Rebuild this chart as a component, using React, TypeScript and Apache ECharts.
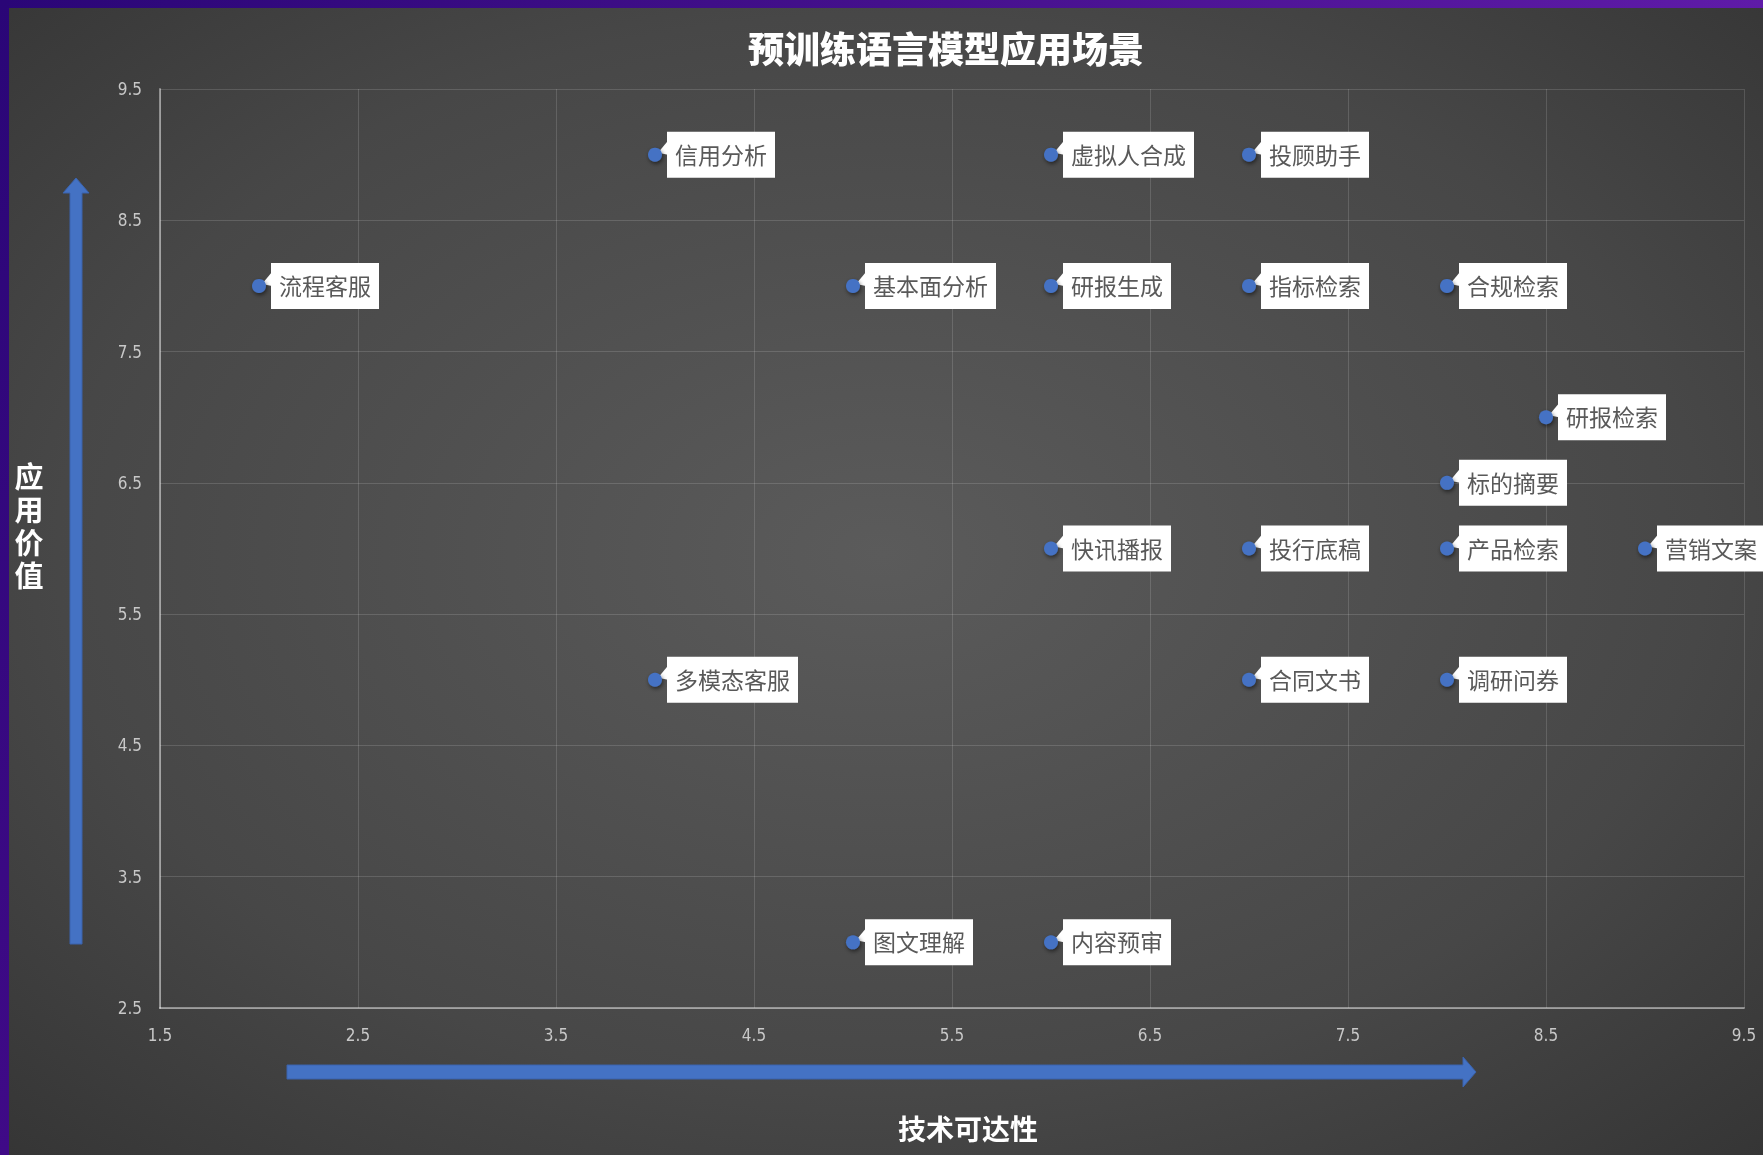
import React, { useEffect, useRef } from "react";
import * as echarts from "echarts";

const names = [
  "流程客服", "信用分析", "虚拟人合成", "投顾助手", "基本面分析", "研报生成", "指标检索", "合规检索",
  "研报检索", "标的摘要", "快讯播报", "投行底稿", "产品检索", "营销文案", "多模态客服", "合同文书",
  "调研问券", "图文理解", "内容预审",
];
const xValues = [2, 4, 6, 7, 5, 6, 7, 8, 8.5, 8, 6, 7, 8, 9, 4, 7, 8, 5, 6];
const yValues = [8, 9, 9, 9, 8, 8, 8, 8, 7, 6.5, 6, 6, 6, 6, 5, 5, 5, 3, 3];

const titleText = "预训练语言模型应用场景";
const xName = "技术可达性";
const yName = "应用价值";

const xMin = 1.5, xMax = 9.5, yMin = 2.5, yMax = 9.5, step = 1;

const CJK = "'Noto Sans CJK SC', 'Noto Sans', sans-serif";
const NUM = "'Liberation Sans Narrow', 'DejaVu Sans Condensed', 'Liberation Sans', sans-serif";

export default function App() {
  const ref = useRef<HTMLDivElement>(null);
  useEffect(() => {
    if (!ref.current) return;
    const chart = echarts.init(ref.current, undefined, { renderer: "svg" });
    const data = names.map((n, i) => [xValues[i], yValues[i]]);
    const blue = "#4472c4";
    const yNameChars = yName.split("").map((ch, i) => ({
      type: "text", x: 29, y: 475 + i * 33,
      style: { text: ch, fill: "#ffffff", font: `bold 29px ${CJK}`, textAlign: "center", textVerticalAlign: "middle" },
    }));
    const option: any = {
      animation: false,
      backgroundColor: {
        type: "radial", x: 0.5, y: 0.48, r: 0.85,
        colorStops: [
          { offset: 0, color: "#5b5b5b" },
          { offset: 0.55, color: "#474747" },
          { offset: 1, color: "#2c2c2c" },
        ],
      },
      grid: { left: 160, top: 89, right: 19, bottom: 147, containLabel: false },
      xAxis: {
        type: "value", min: xMin, max: xMax, interval: step,
        axisLine: { show: true, lineStyle: { color: "rgba(255,255,255,0.42)", width: 2 } },
        axisTick: { show: false },
        splitLine: { show: true, lineStyle: { color: "rgba(255,255,255,0.14)", width: 1 } },
        axisLabel: { color: "#c8c8c8", fontSize: 17, fontFamily: NUM, margin: 18,
          formatter: (v: number) => v.toFixed(1) },
      },
      yAxis: {
        type: "value", min: yMin, max: yMax, interval: step,
        axisLine: { show: true, lineStyle: { color: "rgba(255,255,255,0.42)", width: 2 } },
        axisTick: { show: false },
        splitLine: { show: true, lineStyle: { color: "rgba(255,255,255,0.14)", width: 1 } },
        axisLabel: { color: "#c8c8c8", fontSize: 17, fontFamily: NUM, margin: 18,
          formatter: (v: number) => v.toFixed(1) },
      },
      graphic: [
        {
          type: "rect", shape: { x: 0, y: 0, width: 1763, height: 8 },
          style: { fill: { type: "linear", x: 0, y: 0, x2: 1, y2: 0,
            colorStops: [{ offset: 0, color: "#2a0677" }, { offset: 0.5, color: "#44108c" }, { offset: 1, color: "#5f1ba8" }] } },
          z: 100,
        },
        {
          type: "rect", shape: { x: 0, y: 0, width: 9, height: 1155 },
          style: { fill: { type: "linear", x: 0, y: 0, x2: 0, y2: 1,
            colorStops: [{ offset: 0, color: "#2a0677" }, { offset: 1, color: "#3f0a87" }] } },
          z: 100,
        },
        {
          type: "text", x: 946, y: 47,
          style: { text: titleText, fill: "#ffffff", font: `900 36px ${CJK}`, textAlign: "center", textVerticalAlign: "middle" },
        },
        ...yNameChars,
        {
          type: "text", x: 968, y: 1128,
          style: { text: xName, fill: "#ffffff", font: `bold 28px ${CJK}`, textAlign: "center", textVerticalAlign: "middle" },
        },
        {
          type: "polygon",
          shape: { points: [[70, 944], [70, 193], [63, 193], [76, 178], [89, 193], [82, 193], [82, 944]] },
          style: { fill: blue, stroke: "#3a63ad", lineWidth: 1 },
        },
        {
          type: "polygon",
          shape: { points: [[287, 1065], [1463, 1065], [1463, 1057], [1476, 1072], [1463, 1087], [1463, 1079], [287, 1079]] },
          style: { fill: blue, stroke: "#3a63ad", lineWidth: 1 },
        },
      ],
      series: [
        {
          type: "custom",
          clip: false,
          data,
          renderItem: (params: any, api: any) => {
            const p = api.coord([api.value(0), api.value(1)]);
            const cx = p[0], cy = p[1];
            const name = names[params.dataIndex];
            const fs = 23;
            const bx = cx + 12;
            const bw = name.length * fs + 16;
            return {
              type: "group",
              children: [
                {
                  type: "rect",
                  shape: { x: bx, y: cy - 23, width: bw, height: 46 },
                  style: { fill: "#ffffff" },
                },
                {
                  type: "polygon",
                  shape: { points: [[cx + 3, cy - 2], [bx + 1, cy - 14], [bx + 1, cy]] },
                  style: { fill: "#ffffff" },
                },
                {
                  type: "circle",
                  shape: { cx, cy, r: 7 },
                  style: { fill: blue, shadowBlur: 4, shadowColor: "rgba(0,0,0,0.55)", shadowOffsetX: 1, shadowOffsetY: 2 },
                },
                {
                  type: "text",
                  x: bx + 8, y: cy - 1,
                  style: { text: name, fill: "#595959", font: `${fs}px ${CJK}`, textVerticalAlign: "middle" },
                },
              ],
            };
          },
        },
      ],
    };
    chart.setOption(option);
    return () => chart.dispose();
  }, []);
  return <div ref={ref} style={{ position: "fixed", left: 0, top: 0, width: 1763, height: 1155 }} />;
}
